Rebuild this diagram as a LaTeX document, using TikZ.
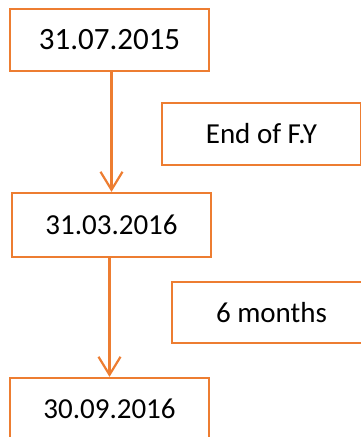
\documentclass[tikz,border=0pt]{standalone}
\usepackage{fontspec}
\setmainfont{Carlito}
\usetikzlibrary{arrows.meta}
\definecolor{boxorange}{HTML}{ED7D31}
\begin{document}
\begin{tikzpicture}[x=1pt,y=1pt,
  datebox/.style={draw=boxorange, line width=2.2pt, fill=white, minimum width=199pt, inner sep=0pt, font=\fontsize{29}{34}\selectfont},
  arr/.style={draw=boxorange, line width=2.2pt, -{Straight Barb[length=18pt,width=22pt,line width=2.2pt]}}]
\useasboundingbox (0,0) rectangle (361,437);
\clip (0,0) rectangle (361,437);
\node[datebox, minimum height=62pt, font=\fontsize{31}{36}\selectfont] (b1) at (109.5,397) {31.07.2015};
\node[datebox, minimum height=64pt] (b2) at (111.5,212) {31.03.2016};
\node[datebox, minimum height=62pt] (b3) at (109.5,28) {30.09.2016};
\node[datebox, minimum height=62pt] (fy) at (261.5,303) {End of F.Y};
\node[datebox, minimum height=61pt] (six) at (271.5,124.5) {6 months};
\draw[arr] (b2.north |- b1.south) -- (b2.north);
\draw[arr] (b3.north |- b2.south) -- (b3.north);
\end{tikzpicture}
\end{document}
